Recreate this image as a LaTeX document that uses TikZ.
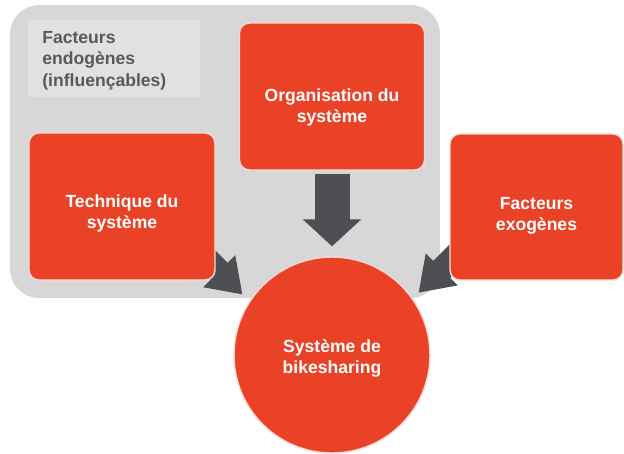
\documentclass[tikz,border=0pt]{standalone}
\usepackage{fontspec}
\setmainfont{Liberation Sans}
\usetikzlibrary{arrows.meta}
\definecolor{bsred}{RGB}{233,66,38}
\definecolor{bsgray}{RGB}{215,215,216}
\definecolor{bslight}{RGB}{225,225,226}
\definecolor{bsdark}{RGB}{77,79,82}
\definecolor{bstext}{RGB}{89,89,89}
\begin{document}
\begin{tikzpicture}[x=0.02cm, y=-0.02cm]
\useasboundingbox (0,0) rectangle (624,453);
\tikzset{every node/.style={font=\bfseries\fontsize{10}{12}\selectfont, align=center}}
% grey area of the endogenous factors
\node[fill=bsgray, rounded corners=0.58cm, minimum width=8.6cm, minimum height=5.86cm] (panel) at (225,151.5) {};
\node[fill=bslight, minimum width=3.44cm, minimum height=1.54cm] (lbl) at (114,58.5) {};
\node[text=bstext, align=left, anchor=north west, inner sep=0pt, font=\bfseries\fontsize{10}{12.2}\selectfont] (endo) at (42,31) {Facteurs\\endogènes\\(influençables)};

\tikzset{redbox/.style={fill=bsred, draw=bsred!20!white, line width=0.8pt, rounded corners=0.2cm}}
\tikzset{redtext/.style={text=white}}
\node[circle, fill=bsred, draw=bsred!20!white, line width=0.8pt, minimum size=3.92cm,
  label={[redtext, yshift=-0.06cm]center:Système de\\bikesharing}] (bike) at (332,355) {};

\coordinate (ltail) at (183,235);
\coordinate (rtail) at (478,233);
\tikzset{sidearrow/.style={-{Triangle[length=0.66cm,width=0.86cm]}, line width=0.48cm, draw=bsdark}}
\path (ltail) edge [sidearrow, shorten >=0.19cm] (bike.147);
\path (rtail) edge [sidearrow, shorten >=0.16cm] (bike.35);

\node[redbox, minimum width=3.7cm, minimum height=2.94cm,
  label={[redtext, yshift=-0.22cm]center:Organisation du\\système}] (org) at (332,96.5) {};
\node[redbox, minimum width=3.72cm, minimum height=2.94cm,
  label={[redtext, yshift=-0.14cm]center:Technique du\\système}] (tech) at (122,206.5) {};
\node[redbox, minimum width=3.46cm, minimum height=2.92cm,
  label={[redtext, yshift=-0.18cm]center:Facteurs\\exogènes}] (exo) at (536.5,207) {};

\tikzset{bigarrow/.style={-{Triangle[length=0.54cm,width=1.14cm]}, line width=0.7cm, draw=bsdark}}
\path (org) edge [bigarrow, shorten <=0.06cm, shorten >=0.2cm] (bike);
\end{tikzpicture}
\end{document}
